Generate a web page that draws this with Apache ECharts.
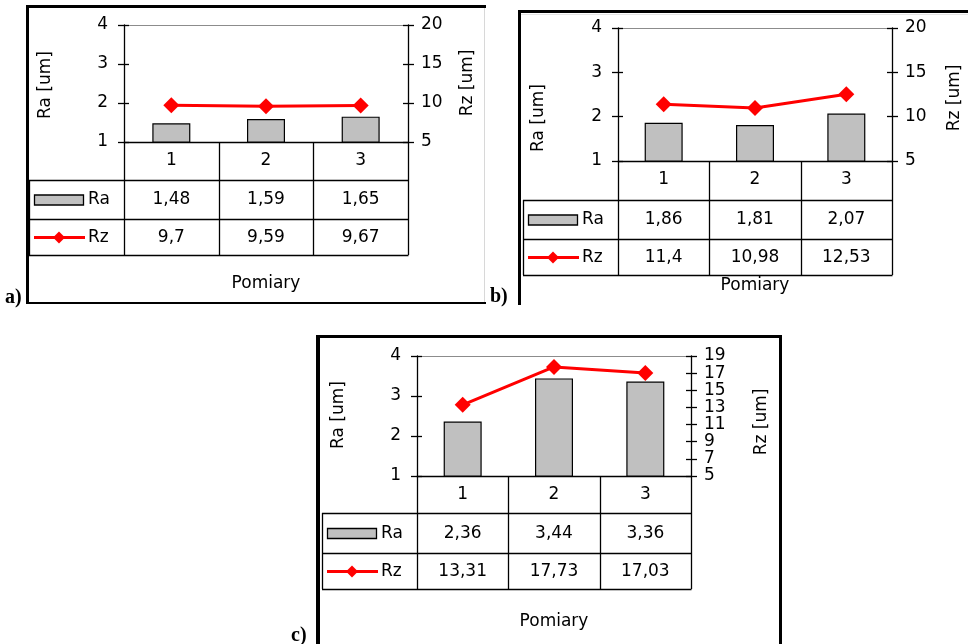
<!DOCTYPE html>
<html>
<head>
<meta charset="utf-8">
<script src="https://cdn.jsdelivr.net/npm/echarts@6/dist/echarts.min.js"></script>
<style>
  html, body { margin: 0; padding: 0; background: #fff; }
  #chart { width: 968px; height: 644px; }
</style>
</head>
<body>
<div id="chart"></div>
<script>
// Measurement data: three sets of roughness measurements
const categories = ['1', '2', '3'];
const raA = [1.48, 1.59, 1.65];
const rzA = [9.7, 9.59, 9.67];
const raB = [1.86, 1.81, 2.07];
const rzB = [11.4, 10.98, 12.53];
const raC = [2.36, 3.44, 3.36];
const rzC = [13.31, 17.73, 17.03];

// Axis scales
const raScale = { min: 1, max: 4, interval: 1 };
const rzScaleAB = { min: 5, max: 20, interval: 5 };
const rzScaleC = { min: 5, max: 19, interval: 2 };

// Texts
const raLabel = 'Ra';
const rzLabel = 'Rz';
const raAxisName = 'Ra [um]';
const rzAxisName = 'Rz [um]';
const xAxisName = 'Pomiary';
const panelTags = ['a)', 'b)', 'c)'];

const FONT = '"DejaVu Sans", Verdana, sans-serif';
const FS = 17;

// Layout of each panel
const panels = [
  {
    ra: raA, rz: rzA, rzScale: rzScaleAB, tag: panelTags[0],
    grid: { left: 124, top: 25, width: 284, height: 117 },
    rows: [38, 39, 36],
    xNameY: 284,
    raName: [46, 85], rzName: [468, 83],
    tagPos: [5, 298],
    frame: [
      { type: 'rect', x: 26, y: 5, w: 3, h: 299 },
      { type: 'rect', x: 26, y: 5, w: 460, h: 3 },
      { type: 'rect', x: 26, y: 302, w: 460, h: 2 },
      { type: 'line', x1: 484.5, y1: 8, x2: 484.5, y2: 302, color: '#d8d8d8' }
    ]
  },
  {
    ra: raB, rz: rzB, rzScale: rzScaleAB, tag: panelTags[1],
    grid: { left: 618, top: 28, width: 274, height: 133 },
    rows: [39, 39, 36],
    xNameY: 286,
    raName: [539, 118], rzName: [955, 98],
    tagPos: [490, 297],
    frame: [
      { type: 'rect', x: 518, y: 10, w: 3, h: 295 },
      { type: 'rect', x: 518, y: 10, w: 450, h: 3 },
      { type: 'line', x1: 521, y1: 14.5, x2: 968, y2: 14.5, color: '#e4e4e4' }
    ]
  },
  {
    ra: raC, rz: rzC, rzScale: rzScaleC, tag: panelTags[2],
    grid: { left: 417, top: 356, width: 274, height: 120 },
    rows: [37, 40, 36],
    xNameY: 622,
    raName: [339, 415], rzName: [762, 422],
    tagPos: [291, 636],
    frame: [
      { type: 'rect', x: 316, y: 335, w: 4, h: 309 },
      { type: 'rect', x: 316, y: 335, w: 466, h: 3 },
      { type: 'rect', x: 779, y: 335, w: 3, h: 309 }
    ]
  }
];

const fmt = v => String(v).replace('.', ',');

const grids = [], xAxes = [], yAxes = [], series = [], graphics = [];

function text(str, x, y, extra) {
  return Object.assign({
    type: 'text', x: x, y: y, silent: true,
    style: { text: str, font: FS + 'px ' + FONT, fill: '#000', textAlign: 'center', textVerticalAlign: 'middle' }
  }, extra || {});
}
function line(x1, y1, x2, y2, color, w) {
  return { type: 'line', silent: true, shape: { x1, y1, x2, y2 }, style: { stroke: color || '#000', lineWidth: w || 1 } };
}

panels.forEach((p, i) => {
  const g = p.grid;
  grids.push({ left: g.left, top: g.top, width: g.width, height: g.height, containLabel: false });

  xAxes.push({
    gridIndex: i, type: 'category', data: categories, boundaryGap: true,
    axisLine: { show: true, onZero: false, lineStyle: { color: '#000', width: 1.3 } },
    axisTick: { show: false },
    axisLabel: { margin: 10, fontFamily: FONT, fontSize: FS, color: '#000' },
    splitLine: { show: false }
  });

  const base = yAxes.length;
  // Ra axis (left) with labels and outer ticks
  yAxes.push({
    gridIndex: i, type: 'value', position: 'left',
    min: raScale.min, max: raScale.max, interval: raScale.interval,
    axisLine: { show: true, lineStyle: { color: '#000', width: 1.3 } },
    axisTick: { show: true, length: 6, lineStyle: { color: '#000', width: 1.3 } },
    axisLabel: { margin: 16, fontFamily: FONT, fontSize: FS, color: '#000' },
    splitLine: { show: true, lineStyle: { color: ['transparent', 'transparent', 'transparent', '#8c8c8c'], width: 1 } }
  });
  // Rz axis (right)
  yAxes.push({
    gridIndex: i, type: 'value', position: 'right',
    min: p.rzScale.min, max: p.rzScale.max, interval: p.rzScale.interval,
    axisLine: { show: true, lineStyle: { color: '#000', width: 1.3 } },
    axisTick: { show: true, length: 6, lineStyle: { color: '#000', width: 1.3 } },
    axisLabel: { margin: 13, fontFamily: FONT, fontSize: FS, color: '#000' },
    splitLine: { show: false }
  });
  // Inner halves of the crossing tick marks
  yAxes.push({
    gridIndex: i, type: 'value', position: 'left',
    min: raScale.min, max: raScale.max, interval: raScale.interval,
    axisLine: { show: false }, axisLabel: { show: false }, splitLine: { show: false },
    axisTick: { show: true, inside: true, length: 5, lineStyle: { color: '#000', width: 1.3 } }
  });
  yAxes.push({
    gridIndex: i, type: 'value', position: 'right',
    min: p.rzScale.min, max: p.rzScale.max, interval: p.rzScale.interval,
    axisLine: { show: false }, axisLabel: { show: false }, splitLine: { show: false },
    axisTick: { show: true, inside: true, length: 5, lineStyle: { color: '#000', width: 1.3 } }
  });

  series.push({
    name: raLabel, type: 'bar', xAxisIndex: i, yAxisIndex: base,
    data: p.ra, barWidth: 38, clip: true,
    itemStyle: { color: '#c0c0c0', borderColor: '#000', borderWidth: 1.2 },
    z: 2
  });
  series.push({
    name: rzLabel, type: 'line', xAxisIndex: i, yAxisIndex: base + 1,
    data: p.rz, symbol: 'diamond', symbolSize: 16,
    lineStyle: { color: '#ff0000', width: 3 },
    itemStyle: { color: '#ff0000' },
    z: 3
  });

  // Data table beneath the plot
  const L = g.left, R = g.left + g.width, T = g.top + g.height;
  const y1 = T + p.rows[0], y2 = y1 + p.rows[1], y3 = y2 + p.rows[2];
  const LL = L - 95;
  const colW = g.width / categories.length;
  for (let k = 0; k <= categories.length; k++) {
    const x = Math.round(L + k * colW) + 0.5;
    graphics.push(line(x, T, x, y3, '#000', 1.3));
  }
  [y1, y2, y3].forEach(y => graphics.push(line(LL, y + 0.5, R + 0.5, y + 0.5, '#000', 1.3)));
  graphics.push(line(LL + 0.5, y1, LL + 0.5, y3, '#000', 1.3));

  const rc1 = (y1 + y2) / 2 + 0.5, rc2 = (y2 + y3) / 2 + 0.5;
  p.ra.forEach((v, k) => graphics.push(text(fmt(v), L + (k + 0.5) * colW, rc1)));
  p.rz.forEach((v, k) => graphics.push(text(fmt(v), L + (k + 0.5) * colW, rc2)));

  // Legend keys in the first column
  graphics.push({ type: 'rect', silent: true, shape: { x: LL + 5.5, y: rc1 - 5, width: 49, height: 10 },
    style: { fill: '#c0c0c0', stroke: '#000', lineWidth: 1.3 } });
  graphics.push(text(raLabel, LL + 59, rc1, { style: { text: raLabel, font: FS + 'px ' + FONT, fill: '#000', textAlign: 'left', textVerticalAlign: 'middle' } }));
  graphics.push(line(LL + 5, rc2, LL + 56, rc2, '#ff0000', 3));
  const dx = LL + 30;
  graphics.push({ type: 'polygon', silent: true,
    shape: { points: [[dx, rc2 - 6], [dx + 6, rc2], [dx, rc2 + 6], [dx - 6, rc2]] },
    style: { fill: '#ff0000' } });
  graphics.push(text(rzLabel, LL + 59, rc2, { style: { text: rzLabel, font: FS + 'px ' + FONT, fill: '#000', textAlign: 'left', textVerticalAlign: 'middle' } }));

  // Axis titles
  graphics.push(text(raAxisName, p.raName[0], p.raName[1], { rotation: Math.PI / 2 }));
  graphics.push(text(rzAxisName, p.rzName[0], p.rzName[1], { rotation: Math.PI / 2 }));
  graphics.push(text(xAxisName, L + g.width / 2, p.xNameY));

  // Panel frame and tag
  p.frame.forEach(f => {
    if (f.type === 'rect') {
      graphics.push({ type: 'rect', silent: true, shape: { x: f.x, y: f.y, width: f.w, height: f.h }, style: { fill: '#000' } });
    } else {
      graphics.push(line(f.x1, f.y1, f.x2, f.y2, f.color, 1));
    }
  });
  graphics.push({
    type: 'text', x: p.tagPos[0], y: p.tagPos[1], silent: true,
    style: { text: p.tag, font: 'bold 20px "Liberation Serif", "Times New Roman", serif', fill: '#000', textAlign: 'left', textVerticalAlign: 'middle' }
  });
});

const chart = echarts.init(document.getElementById('chart'), null, { renderer: 'canvas' });
chart.setOption({
  animation: false,
  backgroundColor: '#fff',
  grid: grids,
  xAxis: xAxes,
  yAxis: yAxes,
  series: series,
  graphic: { elements: graphics }
});
</script>
</body>
</html>
